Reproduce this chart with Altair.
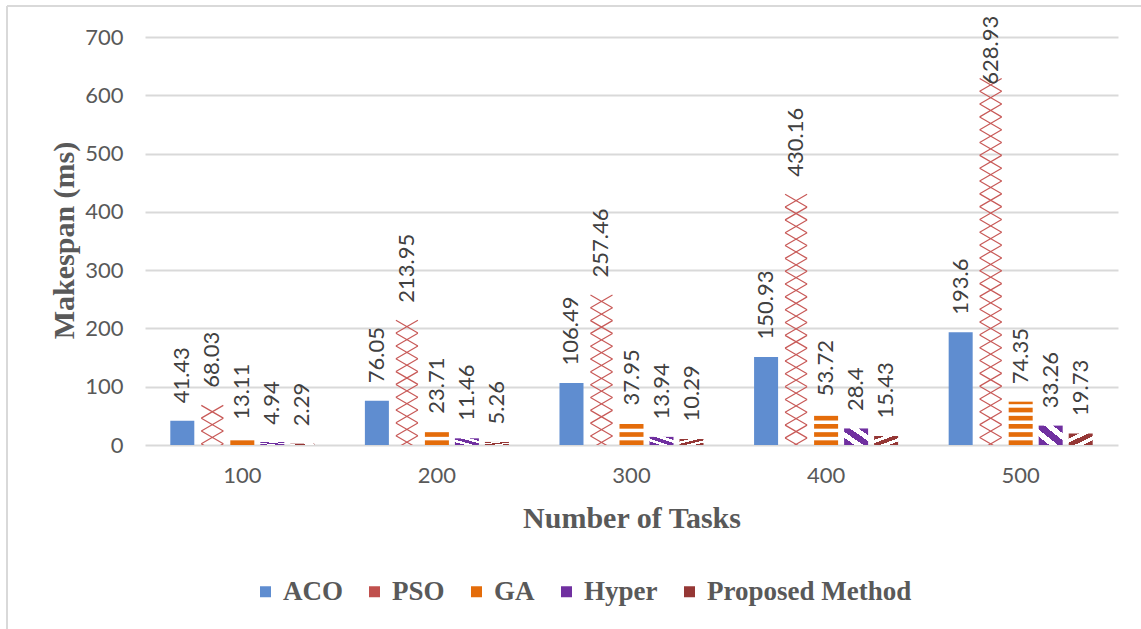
import altair as alt
import pandas as pd

# Makespan per scheduling method and task count
tasks = ["100", "200", "300", "400", "500"]
methods = ["ACO", "PSO", "GA", "Hyper", "Proposed Method"]
aco = [41.43, 76.05, 106.49, 150.93, 193.6]
pso = [68.03, 213.95, 257.46, 430.16, 628.93]
ga = [13.11, 23.71, 37.95, 53.72, 74.35]
hyper = [4.94, 11.46, 13.94, 28.4, 33.26]
proposed = [2.29, 5.26, 10.29, 15.43, 19.73]
y_ticks = [0, 100, 200, 300, 400, 500, 600, 700]

palette = ["#5F8DD0", "#C0504D", "#E46C0A", "#7030A0", "#953735"]
grey_text = "#595959"
grid_grey = "#D9D9D9"

series = dict(zip(methods, [aco, pso, ga, hyper, proposed]))
df = pd.DataFrame(
    [{"tasks": t, "method": m, "value": v}
     for m, vals in series.items() for t, v in zip(tasks, vals)]
)

x_scale = alt.Scale(domain=tasks, paddingInner=0.229, paddingOuter=0.1146)
y_scale = alt.Scale(domain=[0, 700], nice=False)
xo = alt.XOffset("method:N", scale=alt.Scale(domain=methods, paddingInner=0.2, paddingOuter=0.1))

x_axis = alt.Axis(
    title="Number of Tasks", titleFont="Liberation Serif", titleFontWeight="bold",
    titleFontSize=30, titleColor=grey_text, titleX=486.5, titleY=82,
    titleBaseline="alphabetic", titleAlign="center",
    labelFont="Lato", labelFontSize=22, labelColor=grey_text, labelPadding=20,
    labelAngle=0, ticks=False, domain=False, grid=False,
)
y_axis = alt.Axis(
    values=y_ticks, title="Makespan (ms)", titleFont="Liberation Serif",
    titleFontWeight="bold", titleFontSize=30, titleColor=grey_text, titleAngle=270,
    titleX=-72, titleY=203, titleBaseline="alphabetic", titleAlign="center",
    labelFont="Lato", labelFontSize=22, labelColor=grey_text, labelPadding=22,
    ticks=False, domain=False, grid=True, gridColor=grid_grey, gridWidth=2,
)

x_enc = alt.X("tasks:N", scale=x_scale, axis=x_axis)


def y_enc(field):
    return alt.Y(field, type="quantitative", scale=y_scale, axis=y_axis)


def hatch(color, x1, y1, x2, y2):
    """Diagonal stripes of `color` on white, as a sharp-stop linear gradient."""
    edges = [0, 0.22, 0.4, 0.62, 0.8, 1.0]
    stops = []
    for i in range(len(edges) - 1):
        c = color if i % 2 == 0 else "#FFFFFF"
        stops.append(alt.GradientStop(offset=edges[i], color=c))
        stops.append(alt.GradientStop(offset=edges[i + 1], color=c))
    return alt.Gradient(gradient="linear", stops=stops, x1=x1, y1=y1, x2=x2, y2=y2)


# ACO columns carry the legend for all five series
aco_bars = alt.Chart(df).transform_filter(alt.datum.method == "ACO").mark_bar().encode(
    x=x_enc,
    xOffset=xo,
    y=y_enc("value"),
    color=alt.Color(
        "method:N",
        scale=alt.Scale(domain=methods, range=palette),
        legend=alt.Legend(
            title=None, orient="none", legendX=107, legendY=541, direction="horizontal",
            symbolType="square", symbolSize=121, symbolStrokeWidth=0, symbolOpacity=1,
            labelFont="Liberation Serif", labelFontWeight="bold", labelFontSize=27,
            labelColor=grey_text, labelOffset=4, columnPadding=18, labelLimit=400,
        ),
    ),
)

# Hyper: downward diagonal hatching
hyper_bars = alt.Chart(df).transform_filter(alt.datum.method == "Hyper").mark_bar(
    color=hatch(palette[3], 0, 1, 1, 0)
).encode(x=x_enc, xOffset=xo, y=y_enc("value"))

# Proposed Method: upward diagonal hatching
proposed_bars = alt.Chart(df).transform_filter(
    alt.datum.method == "Proposed Method"
).mark_bar(color=hatch(palette[4], 0, 0, 1, 1)).encode(x=x_enc, xOffset=xo, y=y_enc("value"))

# GA: horizontal orange stripes stacked up to the value
ga_stripes = alt.Chart(df).transform_filter(alt.datum.method == "GA").transform_calculate(
    start="sequence(0, datum.value, 14)"
).transform_flatten(["start"]).transform_calculate(
    end="min(datum.start + 8, datum.value)"
).mark_bar(color=palette[2]).encode(
    x=x_enc,
    xOffset=xo,
    y=y_enc("start"),
    y2="end:Q",
)

# PSO: zig-zag chain of crossed strokes, laid from the column top downwards
# (tiles falling below the baseline are clipped away)
pso_chain = alt.Chart(df).transform_filter(alt.datum.method == "PSO").transform_calculate(
    mid="sequence(datum.value - 11, -11, -22)"
).transform_flatten(["mid"]).mark_point(
    shape="M-1,-0.58L1,0.58M1,-0.58L-1,0.58",
    filled=False, size=484, strokeWidth=1.2, color="#C85A58", opacity=1, clip=True,
).encode(
    x=x_enc,
    xOffset=xo,
    y=y_enc("mid"),
)

# Rotated value labels above each column (kept inside the chart at the top)
labels = alt.Chart(df).transform_calculate(
    pos="min(datum.value + 30, 618)"
).mark_text(
    angle=270, align="left", baseline="middle", font="Lato", fontSize=22, color="#404040"
).encode(
    x=x_enc,
    xOffset=xo,
    y=y_enc("pos"),
    text=alt.Text("value:Q", format=".2~f"),
)

# Light frame around the chart area
frame_src = pd.DataFrame({"k": [0]})
frame_left = alt.Chart(frame_src).mark_rule(color=grid_grey, strokeWidth=2).encode(
    x=alt.value(-138), y=alt.value(-31), y2=alt.value(600)
)
frame_top = alt.Chart(frame_src).mark_rule(color=grid_grey, strokeWidth=2).encode(
    y=alt.value(-31), x=alt.value(-138), x2=alt.value(1000)
)

chart = alt.layer(
    aco_bars, hyper_bars, proposed_bars, ga_stripes, pso_chain, labels, frame_left, frame_top
).properties(
    width=973,
    height=408,
    padding={"left": 145, "top": 37, "right": 23, "bottom": 184},
    autosize=alt.AutoSizeParams(type="none"),
    background="white",
).configure_view(stroke=None)

chart.save("out.html", embed_options={"renderer": "svg", "actions": False})
